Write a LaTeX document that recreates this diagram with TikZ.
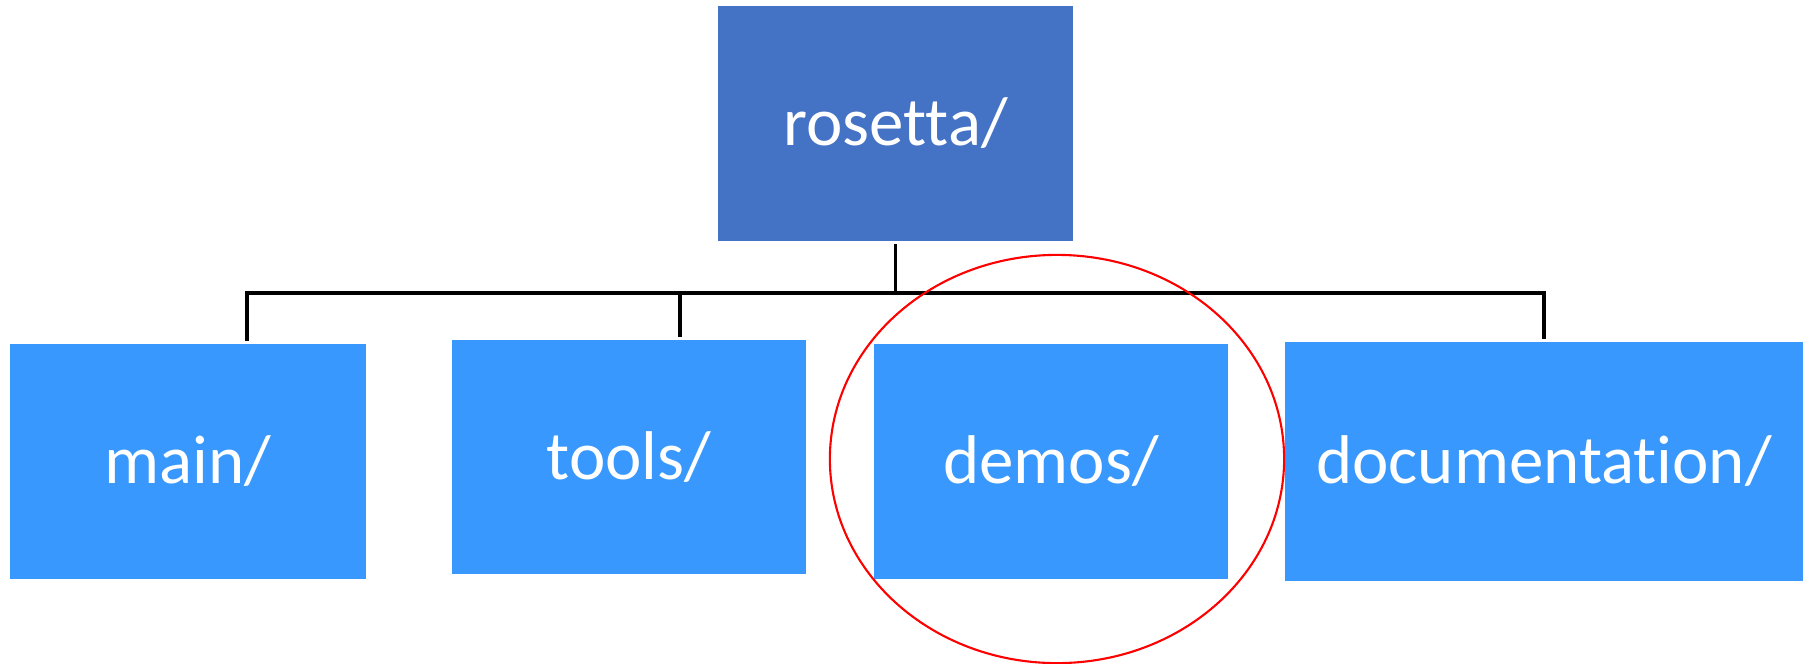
\documentclass[tikz,border=0pt]{standalone}
\usepackage{fontspec}
\setmainfont{Carlito}[Ligatures=NoCommon]
\usetikzlibrary{positioning}
\definecolor{rootblue}{RGB}{68,114,196}
\definecolor{dirblue}{RGB}{56,152,254}

\begin{document}
\begin{tikzpicture}[x=0.01cm, y=-0.01cm,
    dir/.style={fill=dirblue, 
        minimum width=3.56cm, minimum height=2.35cm, 
        text=white, font=\fontsize{19.6}{23}\selectfont,
        inner sep=0pt, outer sep=0.85pt},
    arrel/.style={dir, fill=rootblue, minimum width=3.55cm},
    link/.style={draw=black, line width=0.9pt},
    marca/.style={draw=red, line width=0.6pt},
    ]
    \useasboundingbox (0,0) rectangle (1808,663);
    \node[arrel] (rosetta) at (895.5,123.5) {rosetta/};
    \node[dir] (main) at (188,461.5) {main/};
    \node[dir, minimum width=3.54cm, minimum height=2.34cm] (tools) at (629,457) {tools/};
    \node[dir, minimum width=3.54cm] (demos) at (1051,461.5) {demos/};
    \node[dir, minimum width=5.18cm, minimum height=2.39cm] (documentation) at (1544,461.5) {documentation/};
    \coordinate (bus) at (0,293);
    % tree connectors
    \draw[link] (rosetta.south) -- (rosetta.south |- bus);
    \draw[link] ([xshift=0.59cm]main.north) |- (bus -| documentation.north) -- (documentation.north);
    \draw[link] ([xshift=0.51cm]tools.north) -- ([xshift=0.51cm]tools.north |- bus);
    % highlight
    \draw[marca] (1057,459) ellipse [x radius=2.27cm, y radius=2.04cm];
\end{tikzpicture}
\end{document}
